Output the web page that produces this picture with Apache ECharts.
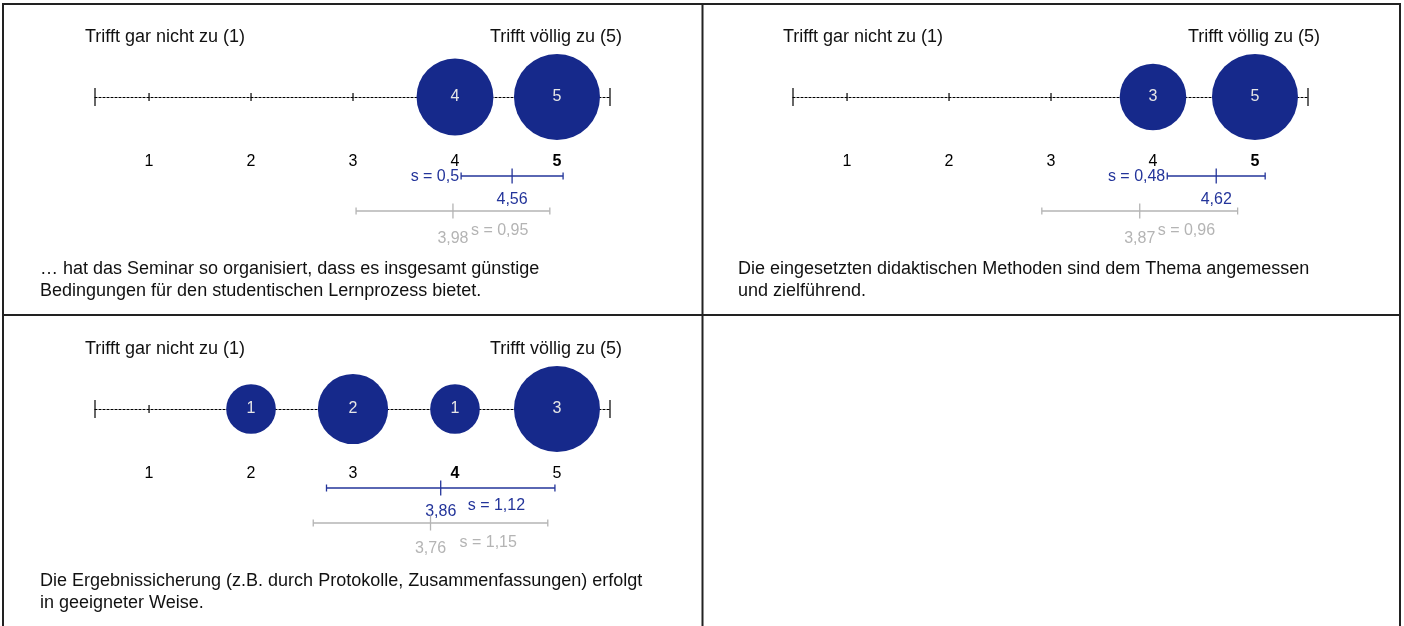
<!DOCTYPE html>
<html>
<head>
<meta charset="utf-8">
<script src="https://cdn.jsdelivr.net/npm/echarts@6/dist/echarts.min.js"></script>
<style>
  html, body { margin: 0; padding: 0; background: #fff; }
  #chart { width: 1404px; height: 626px; }
</style>
</head>
<body>
<div id="chart"></div>
<script>
// answer scale and labels
let scaleTicks = [1, 2, 3, 4, 5];
let scaleLeft = 'Trifft gar nicht zu (1)';
let scaleRight = 'Trifft völlig zu (5)';
let questions = [
	'… hat das Seminar so organisiert, dass es insgesamt günstige\nBedingungen für den studentischen Lernprozess bietet.',
	'Die eingesetzten didaktischen Methoden sind dem Thema angemessen\nund zielführend.',
	'Die Ergebnissicherung (z.B. durch Protokolle, Zusammenfassungen) erfolgt\nin geeigneter Weise.'
];
// number of answers per scale point (1..5)
let counts = [
	[0, 0, 0, 4, 5],
	[0, 0, 0, 3, 5],
	[0, 1, 2, 1, 3]
];
// this course
let courseMean = [4.56, 4.62, 3.86];
let courseSd = [0.5, 0.48, 1.12];
// comparison
let refMean = [3.98, 3.87, 3.76];
let refSd = [0.95, 0.96, 1.15];

// layout
let panels = [{ x: 0, y: 0 }, { x: 698, y: 0 }, { x: 0, y: 312 }];
let AX_MIN = 0.47, AX_MAX = 5.52;
let BUBBLE = '#16298b';
let BLUE = '#23349a';
let GREY = '#b4b4b4';
let FONT = '"Liberation Sans", Arial, sans-serif';

let chartDom = document.getElementById('chart');
let myChart = echarts.init(chartDom);

function median(c) {
	let vals = [];
	c.forEach(function(n, k) {
		for (let j = 0; j < n; j++) vals.push(scaleTicks[k]);
	});
	let n = vals.length;
	if (n % 2) return vals[(n - 1) / 2];
	return (vals[n / 2 - 1] + vals[n / 2]) / 2;
}

function fmt(v) {
	return String(v).replace('.', ',');
}

function txt(text, x, y, color, size, align, weight) {
	return {
		type: 'text',
		style: {
			text: text, x: x, y: y, fill: color,
			fontSize: size, fontFamily: FONT, fontWeight: weight || 'normal',
			align: align, verticalAlign: 'middle'
		}
	};
}

function makeStat(i) {
	return function(params, api) {
		let m = api.value(0), s = api.value(1), kind = api.value(2);
		let c = api.coord([m, 0]);
		let lo = api.coord([m - s, 0]);
		let hi = api.coord([m + s, 0]);
		let y = c[1] + (kind === 0 ? 79 : 114);
		let col = kind === 0 ? BLUE : GREY;
		// sd label left of the blue bar when there's room near the top end
		let sdLeft = (courseMean[i] - courseSd[i]) >= 3.5;
		let ls = { stroke: col, lineWidth: 1.3 };
		let kids = [
			{ type: 'line', shape: { x1: lo[0], y1: y, x2: hi[0], y2: y }, style: ls },
			{ type: 'line', shape: { x1: lo[0], y1: y - 3.5, x2: lo[0], y2: y + 3.5 }, style: ls },
			{ type: 'line', shape: { x1: hi[0], y1: y - 3.5, x2: hi[0], y2: y + 3.5 }, style: ls },
			{ type: 'line', shape: { x1: c[0], y1: y - 7.5, x2: c[0], y2: y + 7.5 }, style: ls }
		];
		if (kind === 0) {
			if (sdLeft) {
				kids.push(txt('s = ' + fmt(s), lo[0] - 2, y + 1, col, 16, 'right'));
				kids.push(txt(fmt(m), c[0], y + 24, col, 16, 'center'));
			} else {
				kids.push(txt(fmt(m), c[0], y + 24, col, 16, 'center'));
				kids.push(txt('s = ' + fmt(s), c[0] + 27, y + 18, col, 16, 'left'));
			}
		} else {
			kids.push(txt(fmt(m), c[0], y + (sdLeft ? 28 : 26), col, 16, 'center'));
			kids.push(txt('s = ' + fmt(s), c[0] + (sdLeft ? 18 : 29), y + 20, col, 16, 'left'));
		}
		return { type: 'group', children: kids };
	};
}

function renderTick(params, api) {
	let v = api.value(0);
	let p = api.coord([v, 0]);
	let h = (v === AX_MIN || v === AX_MAX) ? 9 : 4;
	return {
		type: 'line',
		shape: { x1: p[0], y1: p[1] - h, x2: p[0], y2: p[1] + h },
		style: { stroke: '#000', lineWidth: 1.2 }
	};
}

let grids = [], xAxes = [], yAxes = [], series = [], graphics = [];

panels.forEach(function(p, i) {
	let med = median(counts[i]);
	let maxCount = Math.max.apply(null, counts[i]);
	grids.push({ left: p.x + 95, width: 515, top: p.y + 87, height: 10 });
	xAxes.push({
		type: 'value', gridIndex: i, min: AX_MIN, max: AX_MAX,
		splitLine: { show: false },
		axisTick: { show: false },
		axisLine: { show: true, onZero: false, lineStyle: { color: '#000', width: 1.2, type: [2, 2] } },
		axisLabel: {
			customValues: scaleTicks,
			margin: 65,
			verticalAlign: 'middle',
			color: '#000',
			fontSize: 16,
			fontFamily: FONT,
			formatter: function(v) {
				return v === med ? '{b|' + v + '}' : '{n|' + v + '}';
			},
			rich: {
				b: { fontWeight: 'bold', fontSize: 16, fontFamily: FONT, color: '#000' },
				n: { fontSize: 16, fontFamily: FONT, color: '#000' }
			}
		}
	});
	// y = 0 sits on the grid bottom, where the scale line is
	yAxes.push({ type: 'value', gridIndex: i, min: 0, max: 1, show: false });

	series.push({
		type: 'custom', xAxisIndex: i, yAxisIndex: i, silent: true, z: 2, clip: false,
		renderItem: renderTick,
		data: scaleTicks.concat([AX_MIN, AX_MAX]).map(function(v) { return [v, 0]; })
	});
	series.push({
		type: 'scatter', xAxisIndex: i, yAxisIndex: i, silent: true, z: 3,
		data: counts[i].map(function(c, k) { return [scaleTicks[k], 0, c]; })
			.filter(function(d) { return d[2] > 0; }),
		symbolSize: function(d) { return 86 * Math.sqrt(d[2] / maxCount); },
		itemStyle: { color: BUBBLE, opacity: 1 },
		label: {
			show: true, position: 'inside',
			formatter: function(pr) { return pr.value[2]; },
			color: '#e6e6e6', fontSize: 16, fontFamily: FONT
		}
	});
	series.push({
		type: 'custom', xAxisIndex: i, yAxisIndex: i, silent: true, z: 4, clip: false,
		renderItem: makeStat(i),
		data: [[courseMean[i], courseSd[i], 0], [refMean[i], refSd[i], 1]]
	});

	graphics.push(txt(scaleLeft, p.x + 85, p.y + 37, '#111', 18, 'left'));
	graphics.push(txt(scaleRight, p.x + 622, p.y + 37, '#111', 18, 'right'));
	graphics.push({
		type: 'text',
		style: {
			text: questions[i], x: p.x + 40, y: p.y + 258, fill: '#111',
			fontSize: 18, fontFamily: FONT, lineHeight: 22,
			align: 'left', verticalAlign: 'top'
		}
	});
});

// panel borders
let border = { stroke: '#222', lineWidth: 2 };
[
	[3, 4, 1401, 4],
	[3, 3, 3, 626],
	[702.5, 3, 702.5, 626],
	[1400, 3, 1400, 626],
	[3, 315, 1401, 315]
].forEach(function(l) {
	graphics.push({ type: 'line', shape: { x1: l[0], y1: l[1], x2: l[2], y2: l[3] }, style: border, z: 10 });
});

let option = {
	animation: false,
	backgroundColor: '#fff',
	grid: grids,
	xAxis: xAxes,
	yAxis: yAxes,
	series: series,
	graphic: graphics
};

option && myChart.setOption(option);
</script>
</body>
</html>
